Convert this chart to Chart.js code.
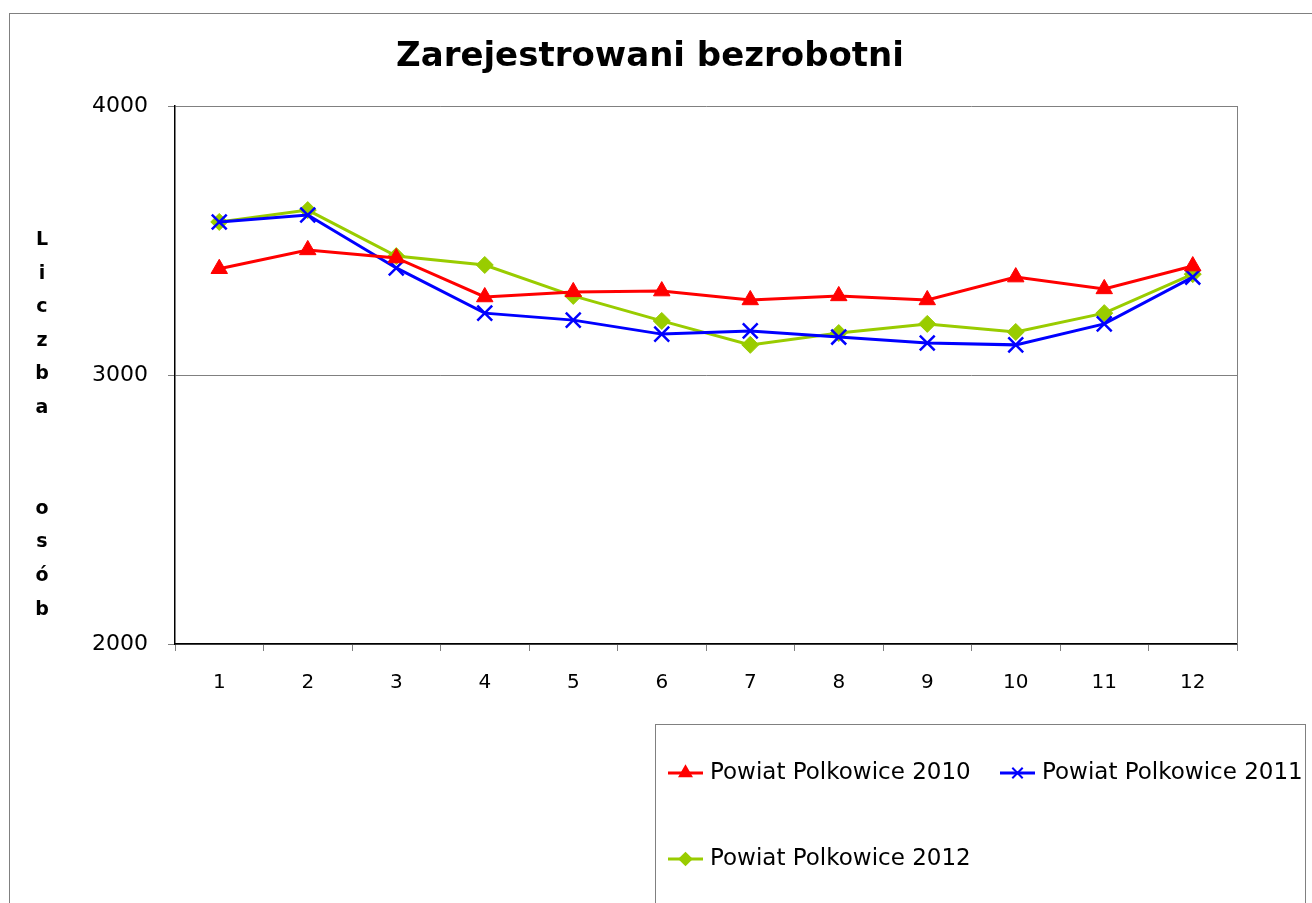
<!DOCTYPE html>
<html><head><meta charset="utf-8">
<script src="https://cdn.jsdelivr.net/npm/chart.js@4/dist/chart.umd.min.js"></script>
<style>html,body{margin:0;padding:0;background:#fff;}#wrap{width:1312px;height:903px;position:relative;}</style>
</head><body><div id="wrap"><canvas id="c" width="1312" height="903"></canvas></div>
<script>
const chartTitle = 'Zarejestrowani bezrobotni';
const yTitleLetters = ['L','i','c','z','b','a','','','o','s','ó','b'];
const months = ['1','2','3','4','5','6','7','8','9','10','11','12'];
const yTicks = [2000, 3000, 4000];
const label2010 = 'Powiat Polkowice 2010';
const label2011 = 'Powiat Polkowice 2011';
const label2012 = 'Powiat Polkowice 2012';
const values2010 = [3395, 3465, 3435, 3290, 3309, 3312, 3279, 3294, 3279, 3364, 3320, 3405];
const values2011 = [3569, 3595, 3398, 3230, 3204, 3152, 3164, 3141, 3119, 3112, 3190, 3364];
const values2012 = [3569, 3613, 3442, 3409, 3294, 3201, 3112, 3156, 3190, 3160, 3230, 3375];

const FONT = 'DejaVu Sans, Verdana, sans-serif';

const decor = {
  id: 'decor',
  beforeDraw(chart) {
    const ctx = chart.ctx;
    ctx.save();
    ctx.fillStyle = '#fff';
    ctx.fillRect(0, 0, chart.width, chart.height);
    ctx.strokeStyle = '#808080';
    ctx.lineWidth = 1;
    ctx.strokeRect(9.5, 13.5, 1400, 1000);
    ctx.restore();
  },
  beforeDatasetsDraw(chart) {
    const ctx = chart.ctx, a = chart.chartArea;
    ctx.save();
    ctx.strokeStyle = '#808080';
    ctx.lineWidth = 1;
    ctx.beginPath();
    ctx.moveTo(a.right + 0.5, a.top);
    ctx.lineTo(a.right + 0.5, a.bottom);
    ctx.stroke();
    ctx.restore();
  },
  afterDatasetsDraw(chart) {
    const ctx = chart.ctx;
    ctx.save();
    ctx.fillStyle = '#000';
    ctx.font = 'bold 34px ' + FONT;
    ctx.textAlign = 'center';
    ctx.textBaseline = 'middle';
    ctx.fillText(chartTitle, 650, 57);
    ctx.font = 'bold 19px ' + FONT;
    yTitleLetters.forEach((ch, i) => ctx.fillText(ch, 42, 240 + i * 33.6));
    ctx.strokeStyle = '#808080';
    ctx.lineWidth = 1;
    ctx.strokeRect(655.5, 724.5, 650, 300);
    const items = [
      {ds: chart.data.datasets[0], x: 668, y: 773},
      {ds: chart.data.datasets[1], x: 1000, y: 773},
      {ds: chart.data.datasets[2], x: 668, y: 859}
    ];
    ctx.font = '23px ' + FONT;
    ctx.textAlign = 'left';
    items.forEach(it => {
      ctx.strokeStyle = it.ds.borderColor;
      ctx.lineWidth = 3;
      ctx.beginPath();
      ctx.moveTo(it.x, it.y); ctx.lineTo(it.x + 35, it.y);
      ctx.stroke();
      ctx.fillStyle = it.ds.pointBackgroundColor;
      ctx.strokeStyle = it.ds.pointBorderColor;
      ctx.lineWidth = 2;
      Chart.helpers.drawPoint(ctx, {
        pointStyle: it.ds.pointStyle, radius: it.ds.pointRadius * 0.7, borderWidth: 2
      }, it.x + 17.5, it.y);
      ctx.fillStyle = '#000';
      ctx.fillText(it.ds.label, it.x + 42, it.y);
    });
    ctx.restore();
  }
};

new Chart(document.getElementById('c'), {
  type: 'line',
  data: {
    labels: months,
    datasets: [
      {label: label2010, data: values2010, borderColor: '#FF0000', backgroundColor: '#FF0000',
       pointBackgroundColor: '#FF0000', pointBorderColor: '#FF0000', pointStyle: 'triangle',
       pointRadius: 9.5, pointBorderWidth: 1, borderWidth: 3, tension: 0},
      {label: label2011, data: values2011, borderColor: '#0000FF', backgroundColor: '#0000FF',
       pointBackgroundColor: '#0000FF', pointBorderColor: '#0000FF', pointStyle: 'crossRot',
       pointRadius: 10.5, pointBorderWidth: 2.5, borderWidth: 3, tension: 0},
      {label: label2012, data: values2012, borderColor: '#99CC00', backgroundColor: '#99CC00',
       pointBackgroundColor: '#99CC00', pointBorderColor: '#99CC00', pointStyle: 'rectRot',
       pointRadius: 8.5, pointBorderWidth: 1, borderWidth: 3, tension: 0}
    ]
  },
  options: {
    responsive: false,
    animation: false,
    devicePixelRatio: 1,
    layout: {padding: {top: 106, right: 75, left: 0, bottom: 0}},
    plugins: {legend: {display: false}, title: {display: false}, tooltip: {enabled: false}},
    scales: {
      x: {
        type: 'category',
        offset: true,
        grid: {offset: true, drawOnChartArea: false, drawTicks: true, tickLength: 7, color: '#808080'},
        border: {color: '#000', width: 1.5},
        ticks: {font: {family: FONT, size: 20}, color: '#000', padding: 20, maxRotation: 0},
        afterFit(s) { s.height = 259; }
      },
      y: {
        min: 2000, max: 4000,
        afterBuildTicks(s) { s.ticks = yTicks.map(v => ({value: v})); },
        grid: {color: '#808080', tickLength: 7, drawTicks: true},
        border: {color: '#000', width: 1.5},
        ticks: {font: {family: FONT, size: 22}, color: '#000', padding: 20,
                callback: v => String(v)},
        afterFit(s) { s.width = 175; }
      }
    }
  },
  plugins: [decor]
});
</script>
</body></html>
